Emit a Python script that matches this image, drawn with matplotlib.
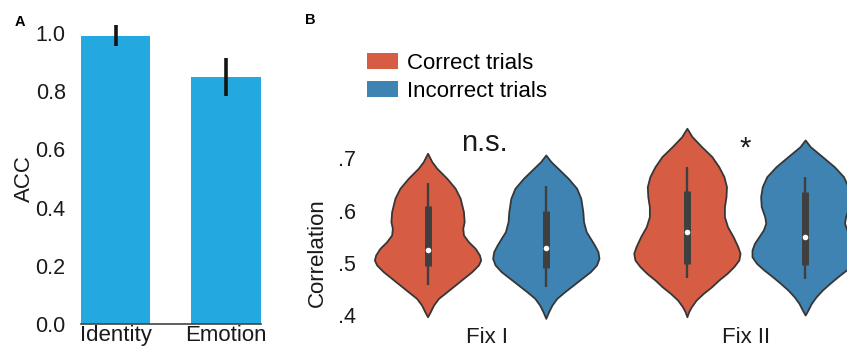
import numpy as np
import matplotlib
matplotlib.use("Agg")
import matplotlib.pyplot as plt
from matplotlib.patches import Patch

plt.rcParams["font.family"] = ["Liberation Sans", "DejaVu Sans"]

# ---- Panel A: accuracy per task ----
tasks = ["Identity", "Emotion"]
acc_mean = [0.99, 0.85]
acc_err = [0.036, 0.065]
acc_ticks = [0.0, 0.2, 0.4, 0.6, 0.8, 1.0]

# ---- Panel B: correlation distributions (density profiles + box stats) ----
phases = ["Fix I", "Fix II"]
trial_types = ["Correct trials", "Incorrect trials"]
corr_ticks = [0.4, 0.5, 0.6, 0.7]
corr_tick_labels = [".4", ".5", ".6", ".7"]
signif = ["n.s.", "*"]

# Fix I, correct
fix1_cor_y = [0.3966, 0.4061, 0.4190, 0.4318, 0.4444, 0.4573, 0.4701, 0.4828,
              0.4957, 0.5052, 0.5148, 0.5276, 0.5402, 0.5531, 0.5659, 0.5785,
              0.5977, 0.6234, 0.6425, 0.6617, 0.6808, 0.6935, 0.7096]
fix1_cor_d = [0.0, 2.7, 6.0, 11.0, 19.3, 27.7, 36.0, 44.3,
              51.0, 53.3, 52.0, 47.7, 41.0, 36.0, 35.3, 36.7,
              36.0, 32.7, 27.7, 19.3, 9.3, 4.3, 0.0]
# Fix I, incorrect
fix1_inc_y = [0.3935, 0.4061, 0.4190, 0.4318, 0.4444, 0.4573, 0.4701, 0.4828,
              0.4957, 0.5084, 0.5211, 0.5339, 0.5467, 0.5594, 0.5785, 0.5977,
              0.6234, 0.6425, 0.6617, 0.6808, 0.6935, 0.7063]
fix1_inc_d = [0.0, 2.7, 6.0, 10.7, 18.3, 26.7, 35.0, 43.3,
              49.3, 51.7, 50.7, 47.3, 43.3, 39.3, 36.7, 36.0,
              34.0, 30.0, 21.7, 11.7, 5.0, 0.0]
# Fix II, correct
fix2_cor_y = [0.3966, 0.4061, 0.4157, 0.4285, 0.4414, 0.4540, 0.4669, 0.4797,
              0.4923, 0.5052, 0.5180, 0.5307, 0.5498, 0.5690, 0.5881, 0.6073,
              0.6264, 0.6456, 0.6648, 0.6839, 0.7031, 0.7222, 0.7414, 0.7575]
fix2_cor_d = [0.0, 1.7, 4.3, 9.0, 16.0, 24.0, 31.0, 39.0,
              45.5, 50.5, 51.7, 49.5, 45.0, 39.5, 36.5, 36.5,
              38.0, 38.5, 36.0, 31.0, 24.3, 14.3, 5.0, 0.0]
# Fix II, incorrect
fix2_inc_y = [0.3998, 0.4094, 0.4222, 0.4349, 0.4477, 0.4605, 0.4732, 0.4860,
              0.4989, 0.5115, 0.5243, 0.5372, 0.5498, 0.5626, 0.5755, 0.5881,
              0.6073, 0.6264, 0.6456, 0.6648, 0.6839, 0.7031, 0.7222, 0.7351]
fix2_inc_d = [0.0, 2.7, 6.0, 10.7, 16.7, 24.0, 31.7, 40.0,
              47.3, 51.7, 51.7, 49.3, 45.0, 40.7, 38.3, 39.3,
              42.7, 43.3, 41.7, 37.3, 28.3, 16.7, 5.0, 0.0]

# box statistics: (whisker low, q1, median, q3, whisker high)
fix1_cor_box = [0.458, 0.494, 0.524, 0.609, 0.652]
fix1_inc_box = [0.454, 0.490, 0.529, 0.599, 0.647]
fix2_cor_box = [0.470, 0.498, 0.559, 0.637, 0.684]
fix2_inc_box = [0.469, 0.496, 0.550, 0.636, 0.665]

bar_color = "#24A8E0"
red = "#D65D43"
blue = "#3F83B3"
edge = "#363636"
boxc = "#3f3f3f"

fig = plt.figure(figsize=(8.47, 3.48), dpi=100)
W, H = 847.0, 348.0

# ---------- Panel A ----------
axA = fig.add_axes([81 / W, 1 - 324 / H, 179.7 / W, (324 - 18.5) / H])
xa = np.arange(len(tasks))
axA.bar(xa, acc_mean, width=0.63, color=bar_color, yerr=acc_err,
        error_kw=dict(elinewidth=2.6, ecolor="#151515", capsize=0))
axA.set_xlim(-0.315, 1.315)
axA.set_ylim(0, 1.05)
axA.set_yticks(acc_ticks)
axA.set_yticklabels([f"{t:.1f}" for t in acc_ticks])
axA.set_xticks(xa)
axA.set_xticklabels(tasks)
for s in ["left", "top", "right"]:
    axA.spines[s].set_visible(False)
axA.spines["bottom"].set_color("#444444")
axA.spines["bottom"].set_linewidth(1.2)
axA.tick_params(axis="y", length=0, pad=11, labelsize=15.5, colors="#1a1a1a")
axA.tick_params(axis="x", length=0, pad=1.0, labelsize=16, colors="#1a1a1a")
axA.set_ylabel("ACC", fontsize=16, color="#1a1a1a", va="center")
axA.yaxis.set_label_coords(-0.317, 0.475)
fig.text(20 / W, 1 - 22 / H, "A", fontsize=10.5, fontweight="bold",
         ha="center", va="center")

# ---------- Panel B ----------
axB = fig.add_axes([362.2 / W, 1 - 325.4 / H, 513.5 / W, (325.4 - 116.5) / H])
dodge = 0.228
groups = [
    (0 - dodge, fix1_cor_y, fix1_cor_d, fix1_cor_box, red),
    (0 + dodge, fix1_inc_y, fix1_inc_d, fix1_inc_box, blue),
    (1 - dodge, fix2_cor_y, fix2_cor_d, fix2_cor_box, red),
    (1 + dodge, fix2_inc_y, fix2_inc_d, fix2_inc_box, blue),
]
vpstats = []
positions = []
for pos, ys, ds, box, col in groups:
    vpstats.append(dict(coords=np.array(ys), vals=np.array(ds),
                        mean=box[2], median=box[2], min=box[0], max=box[4]))
    positions.append(pos)
parts = axB.violin(vpstats, positions=positions, widths=0.41,
                   showmeans=False, showextrema=False, showmedians=False)
for body, (_, _, _, _, col) in zip(parts["bodies"], groups):
    body.set_facecolor(col)
    body.set_edgecolor(edge)
    body.set_linewidth(1.3)
    body.set_alpha(1)
    body.set_zorder(2)
for pos, ys, ds, box, col in groups:
    axB.vlines(pos, box[0], box[4], color=boxc, lw=1.7, zorder=3)
    axB.vlines(pos, box[1], box[3], color=boxc, lw=5.0, zorder=3)
    axB.scatter([pos], [box[2]], s=16, color="white", zorder=4, linewidths=0)

axB.set_xlim(-0.48, 1.5)
axB.set_ylim(0.38, 0.78)
axB.set_yticks(corr_ticks)
axB.set_yticklabels(corr_tick_labels)
axB.set_xticks([0, 1])
axB.set_xticklabels(phases)
for s in axB.spines.values():
    s.set_visible(False)
axB.tick_params(axis="y", length=0, pad=4.5, labelsize=15.5, colors="#1a1a1a")
axB.tick_params(axis="x", length=0, pad=0.8, labelsize=16, colors="#1a1a1a")
axB.set_ylabel("Correlation", fontsize=16, color="#1a1a1a", va="center")
axB.yaxis.set_label_coords(-0.088, 0.347)

axB.text(-0.008, 0.713, signif[0], fontsize=21, ha="center", va="baseline",
         color="#1a1a1a")
axB.text(-0.005 + 1, 0.704, signif[1], fontsize=21, ha="center", va="baseline",
         color="#1a1a1a")

handles = [Patch(facecolor=red, edgecolor="none"),
           Patch(facecolor=blue, edgecolor="none")]
fig.legend(handles, trial_types, loc="upper left",
           bbox_to_anchor=(367 / W, 1 - 53 / H), bbox_transform=fig.transFigure,
           frameon=False, borderpad=0, borderaxespad=0, handlelength=1.4,
           handleheight=0.7, handletextpad=0.4, labelspacing=0.3, fontsize=16)
fig.text(310.5 / W, 1 - 20.5 / H, "B", fontsize=10.5, fontweight="bold",
         ha="center", va="center")

fig.savefig("out.png", dpi=100)
